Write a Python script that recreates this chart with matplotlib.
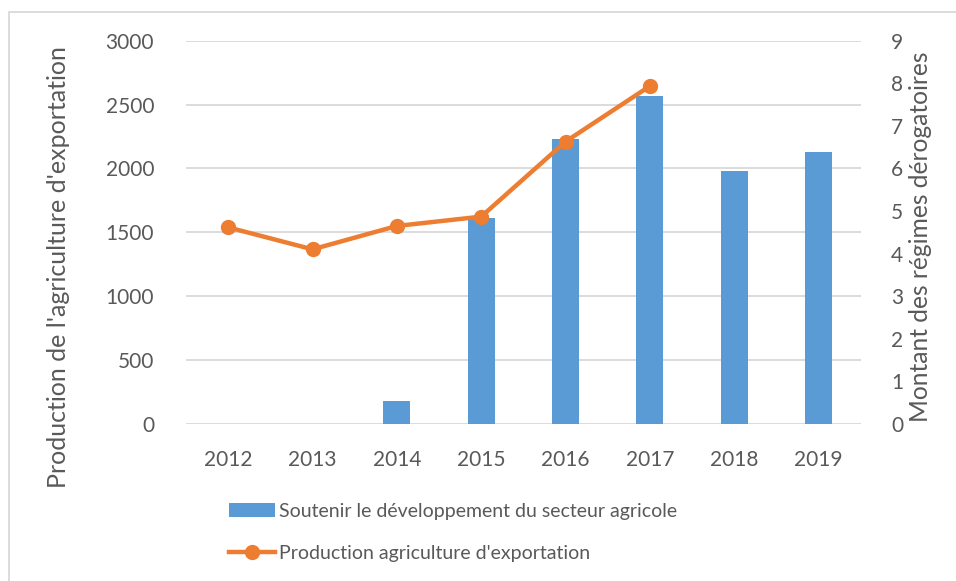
import matplotlib.pyplot as plt
from matplotlib.patches import Rectangle

plt.rcParams['font.family'] = ['Lato', 'DejaVu Sans']

years = ['2012', '2013', '2014', '2015', '2016', '2017', '2018', '2019']
# montant des régimes dérogatoires (axe de droite), None = pas de valeur
montant = [None, None, 0.54, 4.84, 6.70, 7.70, 5.93, 6.39]
# production de l'agriculture d'exportation (axe de gauche)
production = [1539, 1367, 1550, 1623, 2210, 2645]

label_bars = 'Soutenir le développement du secteur agricole'
label_line = "Production agriculture d'exportation"

BLUE = '#5B9BD5'
ORANGE = '#ED7D31'
GRID = '#D9D9D9'
TEXT = '#595959'

W, H = 956, 581
fig = plt.figure(figsize=(W / 100, H / 100), dpi=100)
ax = fig.add_axes([186 / W, 1 - 424 / H, (860.7 - 186) / W, (424 - 40.7) / H])
ax2 = ax.twinx()

x = range(len(years))
bx = [i for i, v in zip(x, montant) if v is not None]
bv = [v for v in montant if v is not None]
bars = ax2.bar(bx, bv, width=0.32, color=BLUE, zorder=2)

line, = ax.plot(range(len(production)), production, color=ORANGE, lw=3.2,
                marker='o', markersize=10, zorder=3)
ax.set_zorder(ax2.get_zorder() + 1)
ax.patch.set_visible(False)

ax.set_xlim(-0.5, len(years) - 0.5)
ax.set_ylim(0, 3000)
ax.set_yticks(range(0, 3001, 500))
ax2.set_ylim(0, 9)
ax2.set_yticks(range(0, 10))
ax.set_xticks(list(x))
ax.set_xticklabels(years)

# quadrillage horizontal gris clair
for v in range(0, 3001, 500):
    ax2.axhline(v / 3000 * 9, color=GRID, lw=1.3, zorder=0)

for a in (ax, ax2):
    for s in a.spines.values():
        s.set_visible(False)
    a.tick_params(length=0, labelsize=15, labelcolor=TEXT)
ax.tick_params(axis='y', pad=23)
ax.tick_params(axis='x', pad=19)
ax2.tick_params(axis='y', pad=22)

fig.text(59 / W, 1 - 267 / H, "Production de l'agriculture d'exportation",
         rotation=90, ha='center', va='center', fontsize=18, color=TEXT)
fig.text(921 / W, 1 - 237 / H, 'Montant des régimes dérogatoires',
         rotation=90, ha='center', va='center', fontsize=17.7, color=TEXT)

fig.legend([bars, line], [label_bars, label_line], loc='upper left',
           bbox_to_anchor=(211 / W, 1 - 485 / H), frameon=False,
           fontsize=14, labelcolor=TEXT, handlelength=2.4, handletextpad=0.2,
           labelspacing=1.3, handleheight=0.75)

# cadre de la zone de graphique
fig.patches.append(Rectangle((8.5 / W, -0.1), 1.2, 1 - 12 / H + 0.1,
                             transform=fig.transFigure, fill=False,
                             edgecolor=GRID, lw=1.3))

fig.savefig('out.png', dpi=100)
